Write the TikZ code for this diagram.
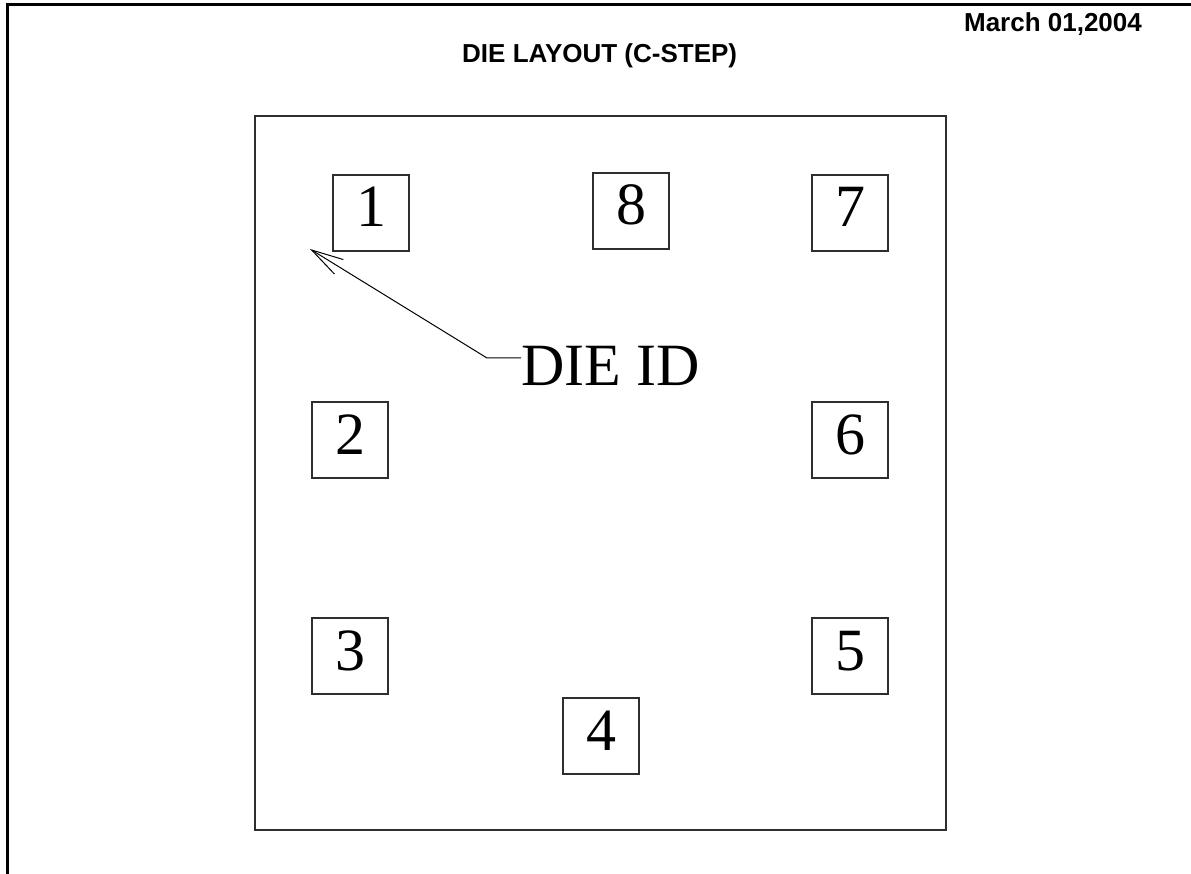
\documentclass[tikz,border=0pt]{standalone}
\usepackage{fontspec}
\setmainfont{Liberation Serif}
\setsansfont{Liberation Sans}
\usepackage{tikz}
\usetikzlibrary{positioning,calc,arrows.meta}
\definecolor{dieline}{HTML}{2E2E2E}

\begin{document}
\begin{tikzpicture}[x=1pt,y=-1pt,
    pad/.style={draw=dieline,line width=1.8pt,minimum size=76pt,inner sep=0pt,
                font=\fontsize{60}{60}\selectfont,text height=40pt,text depth=12pt},
    heading/.style={font=\sffamily\bfseries\fontsize{26}{26}\selectfont,inner sep=0pt,anchor=base},
    arr/.style={-{Straight Barb[length=32pt,width=17pt,line width=1pt]},line width=1pt},
  ]
    \useasboundingbox (0,0) rectangle (1191,874);
    % sheet frame (top and left edge only)
    \draw[line width=3pt] (1191,5) -- (7,5) -- (7,874);

    \node[heading] (date)  at (1053,32) {March 01,2004};
    \node[heading,anchor=base west] (title) at (462,63) {DIE LAYOUT (C-STEP)};

    % die outline
    \draw[dieline,line width=2.2pt] (255,116) rectangle (946,830);

    \node[pad] (p1) at (371,213)   {1};
    \node[pad] (p8) at (631,211)   {8};
    \node[pad] (p7) at (850,213)   {7};
    \node[pad] (p2) at (350,440)   {2};
    \node[pad] (p6) at (850,440)   {6};
    \node[pad] (p3) at (350,656)   {3};
    \node[pad] (p5) at (850,656)   {5};
    \node[pad] (p4) at (601,736)   {4};

    \node[anchor=base west,inner sep=0pt,font=\fontsize{60}{60}\selectfont] (dieid) at (521,385) {DIE ID};
    \coordinate (bend) at (487,358);
    \coordinate (tip)  at (310,249);
    \draw[arr] (bend -| dieid.west) -- (bend) -- (tip);
  \end{tikzpicture}
\end{document}
